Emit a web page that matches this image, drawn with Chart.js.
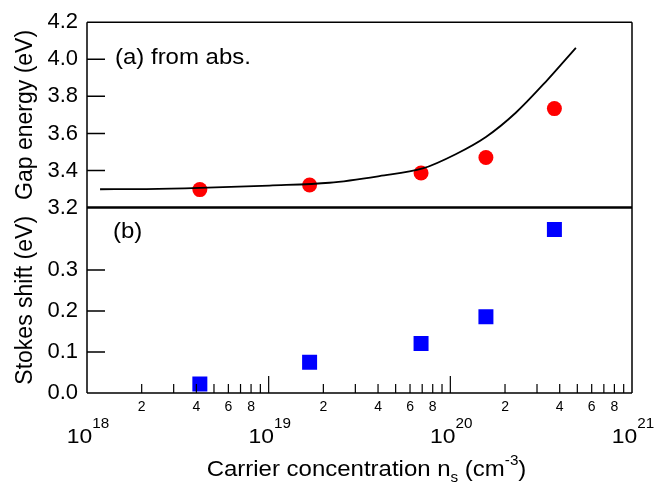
<!DOCTYPE html>
<html><head><meta charset="utf-8">
<script src="https://cdn.jsdelivr.net/npm/chart.js@4/dist/chart.umd.min.js"></script>
<style>html,body{margin:0;padding:0;background:#fff;} #wrap{width:654px;height:489px;position:relative;}</style>
</head><body><div id="wrap"><canvas id="c" width="654" height="489"></canvas></div>
<script>
// ---- data ----
const concentration = [4.18e18, 1.68e19, 6.9e19, 1.57e20, 3.74e20];
const gapEnergy = [3.297, 3.322, 3.387, 3.470, 3.734];
const stokesShift = [0.022, 0.075, 0.121, 0.186, 0.399];
const fitConcentration = [1.18e18, 2.13e18, 4.18e18, 1.01e19, 2.16e19, 4.07e19, 7.05e19, 1.07e20, 1.57e20, 2.30e20, 3.36e20, 4.91e20];
const fitGapEnergy = [3.299, 3.300, 3.306, 3.319, 3.334, 3.370, 3.411, 3.488, 3.581, 3.713, 3.880, 4.062];
const gapTicks = [3.2, 3.4, 3.6, 3.8, 4.0, 4.2];
const stokesTicks = [0.0, 0.1, 0.2, 0.3];
const minorLabelMantissas = [2, 4, 6, 8];
const decadeExponents = [18, 19, 20, 21];
const panelLabels = ['(a) from abs.', '(b)'];

const FONT = 'Liberation Sans, Arial, Helvetica, sans-serif';
const STRETCH = 1.09;

function xTickValues() {
  const out = [];
  for (let i = 0; i < decadeExponents.length - 1; i++) {
    for (let m = 1; m <= 9; m++) out.push(Number(m + 'e' + decadeExponents[i]));
  }
  out.push(Number('1e' + decadeExponents[decadeExponents.length - 1]));
  return out;
}
function mantissa(v) {
  const e = Math.floor(Math.log10(v) + 1e-9);
  return Math.round(v / Math.pow(10, e));
}

// draws a run of text pieces (with sub/superscripts) centred on cx, stretched horizontally
function drawRich(ctx, parts, cx, baseline, sx, align) {
  let total = 0;
  parts.forEach(p => { ctx.font = p.size + 'px ' + FONT; p.w = ctx.measureText(p.t).width; total += p.w; });
  ctx.save();
  ctx.translate(cx, baseline);
  ctx.scale(sx, 1);
  let x = align === 'left' ? 0 : -total / 2;
  ctx.textAlign = 'left';
  ctx.textBaseline = 'alphabetic';
  parts.forEach(p => { ctx.font = p.size + 'px ' + FONT; ctx.fillText(p.t, x, (p.dy || 0)); x += p.w; });
  ctx.restore();
}

const framePlugin = {
  id: 'frame',
  afterDraw(chart) {
    const ctx = chart.ctx;
    const a = chart.chartArea;
    const xs = chart.scales.x, yG = chart.scales.yG, yS = chart.scales.yS;
    ctx.save();
    ctx.strokeStyle = '#000';
    ctx.fillStyle = '#000';
    // frame
    ctx.lineWidth = 1.5;
    ctx.beginPath();
    ctx.moveTo(a.left, a.top); ctx.lineTo(a.right, a.top);
    ctx.moveTo(a.left, a.top); ctx.lineTo(a.left, a.bottom);
    ctx.moveTo(a.right, a.top); ctx.lineTo(a.right, a.bottom);
    ctx.moveTo(a.left, a.bottom); ctx.lineTo(a.right, a.bottom);
    ctx.stroke();
    // divider between panels
    ctx.lineWidth = 2.5;
    ctx.beginPath();
    const yDiv = yG.getPixelForValue(yG.min);
    ctx.moveTo(a.left, yDiv); ctx.lineTo(a.right, yDiv);
    ctx.stroke();
    // inward y ticks
    ctx.lineWidth = 1.5;
    ctx.beginPath();
    gapTicks.forEach(v => {
      if (v <= yG.min || v >= yG.max) return;
      const py = yG.getPixelForValue(v);
      ctx.moveTo(a.left, py); ctx.lineTo(a.left + 18, py);
    });
    stokesTicks.forEach(v => {
      if (v <= yS.min || v >= yS.max) return;
      const py = yS.getPixelForValue(v);
      ctx.moveTo(a.left, py); ctx.lineTo(a.left + 18, py);
    });
    ctx.stroke();
    // inward x ticks
    ctx.lineWidth = 1.2;
    ctx.beginPath();
    xTickValues().forEach(v => {
      const px = xs.getPixelForValue(v);
      if (px <= a.left + 0.5 || px >= a.right - 0.5) return;
      const len = mantissa(v) === 1 ? 17 : 9;
      ctx.moveTo(px, a.bottom); ctx.lineTo(px, a.bottom - len);
    });
    ctx.stroke();
    // decade labels
    decadeExponents.forEach(e => {
      const px = xs.getPixelForValue(Number('1e' + e));
      drawRich(ctx, [{t: '10', size: 21}, {t: String(e), size: 14, dy: -15}], px + 1, 443, STRETCH);
    });
    // x title
    drawRich(ctx, [
      {t: 'Carrier concentration n', size: 22},
      {t: 's', size: 14, dy: 6},
      {t: ' (cm', size: 22},
      {t: '-3', size: 14, dy: -11},
      {t: ')', size: 22}
    ], 366.5, 476, STRETCH);
    // panel labels
    drawRich(ctx, [{t: panelLabels[0], size: 22}], 115, 64, STRETCH, 'left');
    drawRich(ctx, [{t: panelLabels[1], size: 22}], 113, 238, STRETCH, 'left');
    ctx.restore();
  }
};

new Chart(document.getElementById('c'), {
  type: 'scatter',
  data: {
    datasets: [
      {
        label: 'fit', type: 'line', yAxisID: 'yG',
        data: fitConcentration.map((x, i) => ({x, y: fitGapEnergy[i]})),
        borderColor: '#000', borderWidth: 1.8, pointRadius: 0, fill: false,
        cubicInterpolationMode: 'monotone'
      },
      {
        label: 'Gap energy', yAxisID: 'yG',
        data: concentration.map((x, i) => ({x, y: gapEnergy[i]})),
        backgroundColor: '#ff0000', borderColor: '#ff0000', borderWidth: 0,
        pointRadius: 7.5, pointStyle: 'circle'
      },
      {
        label: 'Stokes shift', yAxisID: 'yS',
        data: concentration.map((x, i) => ({x, y: stokesShift[i]})),
        backgroundColor: '#0000ff', borderColor: '#0000ff', borderWidth: 0,
        pointRadius: 10.6, pointStyle: 'rect'
      }
    ]
  },
  options: {
    responsive: false,
    devicePixelRatio: 1,
    animation: false,
    layout: {padding: {top: 21, right: 22, left: 0, bottom: 0}},
    plugins: {legend: {display: false}, tooltip: {enabled: false}},
    scales: {
      x: {
        type: 'logarithmic', position: 'bottom',
        min: 1e18, max: 1e21,
        afterBuildTicks: s => { s.ticks = xTickValues().map(v => ({value: v})); },
        afterFit: s => { s.height = 96; },
        grid: {display: false, drawTicks: false},
        border: {display: false},
        ticks: {
          autoSkip: false, maxRotation: 0, minRotation: 0,
          color: '#000', font: {family: FONT, size: 14}, padding: 6,
          callback: v => (v < 1e21 && minorLabelMantissas.includes(mantissa(v))) ? String(mantissa(v)) : ''
        }
      },
      yS: {
        type: 'linear', position: 'left', stack: 'panels', stackWeight: 1,
        min: 0, max: 0.4525,
        afterBuildTicks: s => { s.ticks = stokesTicks.map(v => ({value: v})); },
        afterFit: s => { s.width = 87; },
        grid: {display: false, drawTicks: false},
        border: {display: false},
        ticks: {autoSkip: false, color: '#000', font: {family: FONT, size: 22}, padding: 9, callback: v => Number(v).toFixed(1)},
        title: {display: true, text: 'Stokes shift (eV)', color: '#000', font: {family: FONT, size: 23}, padding: {top: 12, bottom: 0}}
      },
      yG: {
        type: 'linear', position: 'left', stack: 'panels', stackWeight: 1,
        min: 3.2, max: 4.2,
        afterBuildTicks: s => { s.ticks = gapTicks.map(v => ({value: v})); },
        afterFit: s => { s.width = 87; },
        grid: {display: false, drawTicks: false},
        border: {display: false},
        ticks: {autoSkip: false, color: '#000', font: {family: FONT, size: 22}, padding: 9, callback: v => Number(v).toFixed(1)},
        title: {display: true, text: 'Gap energy (eV)', color: '#000', font: {family: FONT, size: 23}, padding: {top: 12, bottom: 0}}
      }
    }
  },
  plugins: [framePlugin]
});
</script>
</body></html>
